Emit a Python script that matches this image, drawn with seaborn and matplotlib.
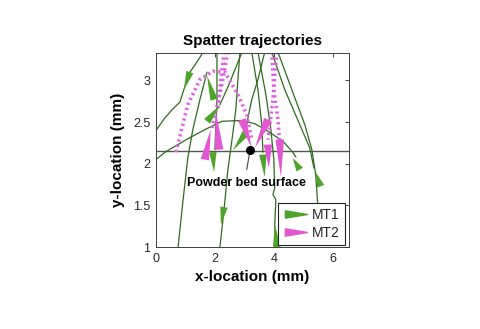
import numpy as np
import pandas as pd
import matplotlib
matplotlib.use("Agg")
import matplotlib.pyplot as plt
import seaborn as sns
from matplotlib.path import Path
from matplotlib.lines import Line2D

# ---------------- data ----------------
# MT1 trajectories (solid dark green), x/y in mm
mt1_traj = {
    "g1": ([0.00, 0.30, 0.55, 0.81, 1.00, 1.15, 1.35, 1.62],
           [2.40, 2.55, 2.65, 2.74, 2.95, 3.10, 3.20, 3.35]),
    "g2": ([0.00, 0.31, 1.08, 1.66, 2.24, 2.92, 3.36, 3.76, 4.31, 4.64, 4.75],
           [2.05, 2.14, 2.30, 2.41, 2.51, 2.52, 2.48, 2.40, 2.27, 2.14, 2.08]),
    "g3": ([0.75, 0.92, 1.08, 1.25, 1.49, 1.73],
           [1.00, 1.57, 2.07, 2.41, 2.77, 3.10]),
    "g4": ([2.17, 2.31, 2.44, 2.58, 2.71, 2.78, 2.85],
           [1.00, 1.45, 1.93, 2.29, 2.65, 3.01, 3.34]),
    "g5": ([2.07, 2.07, 2.00],
           [3.34, 2.77, 2.17]),
    "g6": ([2.92, 2.68, 2.44, 2.17],
           [3.34, 3.13, 2.92, 2.71]),
    "g7": ([3.69, 3.46, 3.25, 3.12, 3.05],
           [3.34, 3.01, 2.77, 2.55, 2.40]),
    "g8": ([3.25, 3.46, 3.59, 3.63],
           [3.34, 2.89, 2.47, 2.14]),
    "g9": ([3.46, 3.73, 3.90, 4.00, 4.03, 3.97, 4.07, 4.03, 4.07],
           [3.34, 2.83, 2.41, 2.05, 1.71, 1.63, 1.57, 1.27, 1.00]),
    "g10": ([3.93, 4.37, 4.88, 5.22, 5.36],
            [3.34, 2.89, 2.47, 2.19, 1.95]),
    "g11": ([4.14, 4.61, 5.05, 5.29, 5.42, 5.49],
            [3.34, 2.89, 2.47, 2.17, 1.87, 1.51]),
}
# MT2 trajectories (dotted magenta)
mt2_traj = {
    "d1": ([0.68, 1.08, 1.49, 1.93, 2.34, 2.78, 3.08, 3.25],
           [2.14, 2.71, 3.01, 3.11, 3.10, 2.83, 2.59, 2.29]),
    "d2": ([2.31, 2.20, 2.10], [3.34, 3.01, 2.65]),
    "d3": ([2.44, 2.20, 1.90], [3.34, 2.89, 2.43]),
    "d4": ([3.93, 4.00, 4.14, 4.20], [3.34, 2.89, 2.53, 2.23]),
    "d5": ([4.10, 3.97, 3.80], [3.34, 2.77, 2.29]),
}
# Arrow heads: base point -> tip point
mt1_base_x = [1.15, 1.97, 1.73, 1.93, 2.31, 3.05, 3.63, 4.88, 5.59, 4.10]
mt1_base_y = [3.10, 2.77, 2.51, 2.14, 1.48, 2.37, 2.11, 1.93, 1.73, 1.00]
mt1_tip_x = [0.95, 1.73, 2.17, 1.97, 2.20, 2.61, 3.69, 4.64, 5.42, 4.03]
mt1_tip_y = [2.89, 3.06, 2.70, 1.90, 1.27, 2.16, 1.84, 2.07, 1.90, 1.28]

mt2_base_x = [1.66, 2.14, 2.92, 3.80, 3.80, 4.20]
mt2_base_y = [2.05, 2.17, 2.53, 2.53, 2.23, 2.29]
mt2_tip_x = [1.86, 2.03, 3.25, 3.36, 3.83, 4.24]
mt2_tip_y = [2.41, 2.63, 2.19, 2.19, 1.95, 1.84]

surface_y = 2.15
dot_x, dot_y = 3.19, 2.16
leader_x, leader_y = 3.08, 1.93
label_x, label_y = 3.07, 1.77
series_names = ["MT1", "MT2"]

# ---------------- style ----------------
sns.set_style("white")
plt.rcParams["font.family"] = ["Liberation Sans", "DejaVu Sans"]

LINE_GREEN = "#2f6a1f"
HEAD_GREEN = "#4ea32a"
MAGENTA = "#e060e0"
HEAD_MAGENTA = "#e256d4"

fig = plt.figure(figsize=(4.8, 3.29), dpi=100)
ax = fig.add_axes([0.325, 0.249, 0.402, 0.590])
ax.set_xlim(0, 6.55)
ax.set_ylim(1, 3.33)


def to_long(d):
    rows = []
    for k, (xs, ys) in d.items():
        for i, (x, y) in enumerate(zip(xs, ys)):
            rows.append({"traj": k, "order": i, "x": x, "y": y})
    return pd.DataFrame(rows)


df1 = to_long(mt1_traj)
df2 = to_long(mt2_traj)

sns.lineplot(data=df1, x="x", y="y", units="traj", estimator=None, sort=False,
             color=LINE_GREEN, lw=0.9, ax=ax, legend=False)
sns.lineplot(data=df2, x="x", y="y", units="traj", estimator=None, sort=False,
             color=MAGENTA, lw=2.6, ax=ax, legend=False)
for line in ax.lines[len(mt1_traj):]:
    line.set_linestyle((0, (0.6, 0.9)))

ax.axhline(surface_y, color="#555555", lw=1.0, zorder=1)


def wedge(bx, by, tx, ty, width_px, color):
    b = ax.transData.transform((bx, by))
    t = ax.transData.transform((tx, ty))
    d = t - b
    n = np.array([-d[1], d[0]]) / (np.hypot(*d) + 1e-9)
    pts = np.array([b + n * width_px / 2, b - n * width_px / 2, t])
    pd_ = ax.transData.inverted().transform(pts)
    ax.fill(pd_[:, 0], pd_[:, 1], color=color, lw=0, zorder=3, clip_on=True)


for bx, by, tx, ty in zip(mt1_base_x, mt1_base_y, mt1_tip_x, mt1_tip_y):
    wedge(bx, by, tx, ty, 7.5, HEAD_GREEN)
for bx, by, tx, ty in zip(mt2_base_x, mt2_base_y, mt2_tip_x, mt2_tip_y):
    wedge(bx, by, tx, ty, 8.5, HEAD_MAGENTA)

ax.plot([dot_x, leader_x], [dot_y, leader_y], color="#444444", lw=0.8, zorder=4)
ax.plot([dot_x], [dot_y], "o", color="black", ms=5.5, zorder=5)
ax.text(label_x, label_y, "Powder bed surface", ha="center", va="center",
        fontsize=9, fontweight="bold", color="black", zorder=6)

ax.set_xticks([0, 2, 4, 6])
ax.set_yticks([1, 1.5, 2, 2.5, 3])
ax.set_yticklabels(["1", "1.5", "2", "2.5", "3"])
ax.tick_params(direction="in", length=3, width=0.6, top=True, right=True,
               labelsize=9, colors="#262626", pad=4)
for s in ax.spines.values():
    s.set_color("#404040")
    s.set_linewidth(0.7)

ax.set_xlabel("x-location (mm)", fontsize=11, fontweight="bold", labelpad=4,
              color="black")
ax.set_ylabel("y-location (mm)", fontsize=11, fontweight="bold", labelpad=6,
              color="black")
ax.set_title("Spatter trajectories", fontsize=11, fontweight="bold", pad=6,
             color="black")

wedge_path = Path([(-1, 0.33), (-1, -0.33), (1, 0), (-1, 0.33)],
                  [Path.MOVETO, Path.LINETO, Path.LINETO, Path.CLOSEPOLY])
handles = [Line2D([], [], marker=wedge_path, ms=16, color=HEAD_GREEN, ls="None"),
           Line2D([], [], marker=wedge_path, ms=16, color=HEAD_MAGENTA, ls="None")]
leg = ax.legend(handles, series_names, loc="lower right",
                bbox_to_anchor=(0.98, 0.01), borderaxespad=0, fontsize=10,
                fancybox=False, framealpha=1, edgecolor="#222222",
                handlelength=1.8, handletextpad=0.3, borderpad=0.35,
                labelspacing=0.3)
leg.get_frame().set_linewidth(0.8)

fig.savefig("out.png", dpi=100)
